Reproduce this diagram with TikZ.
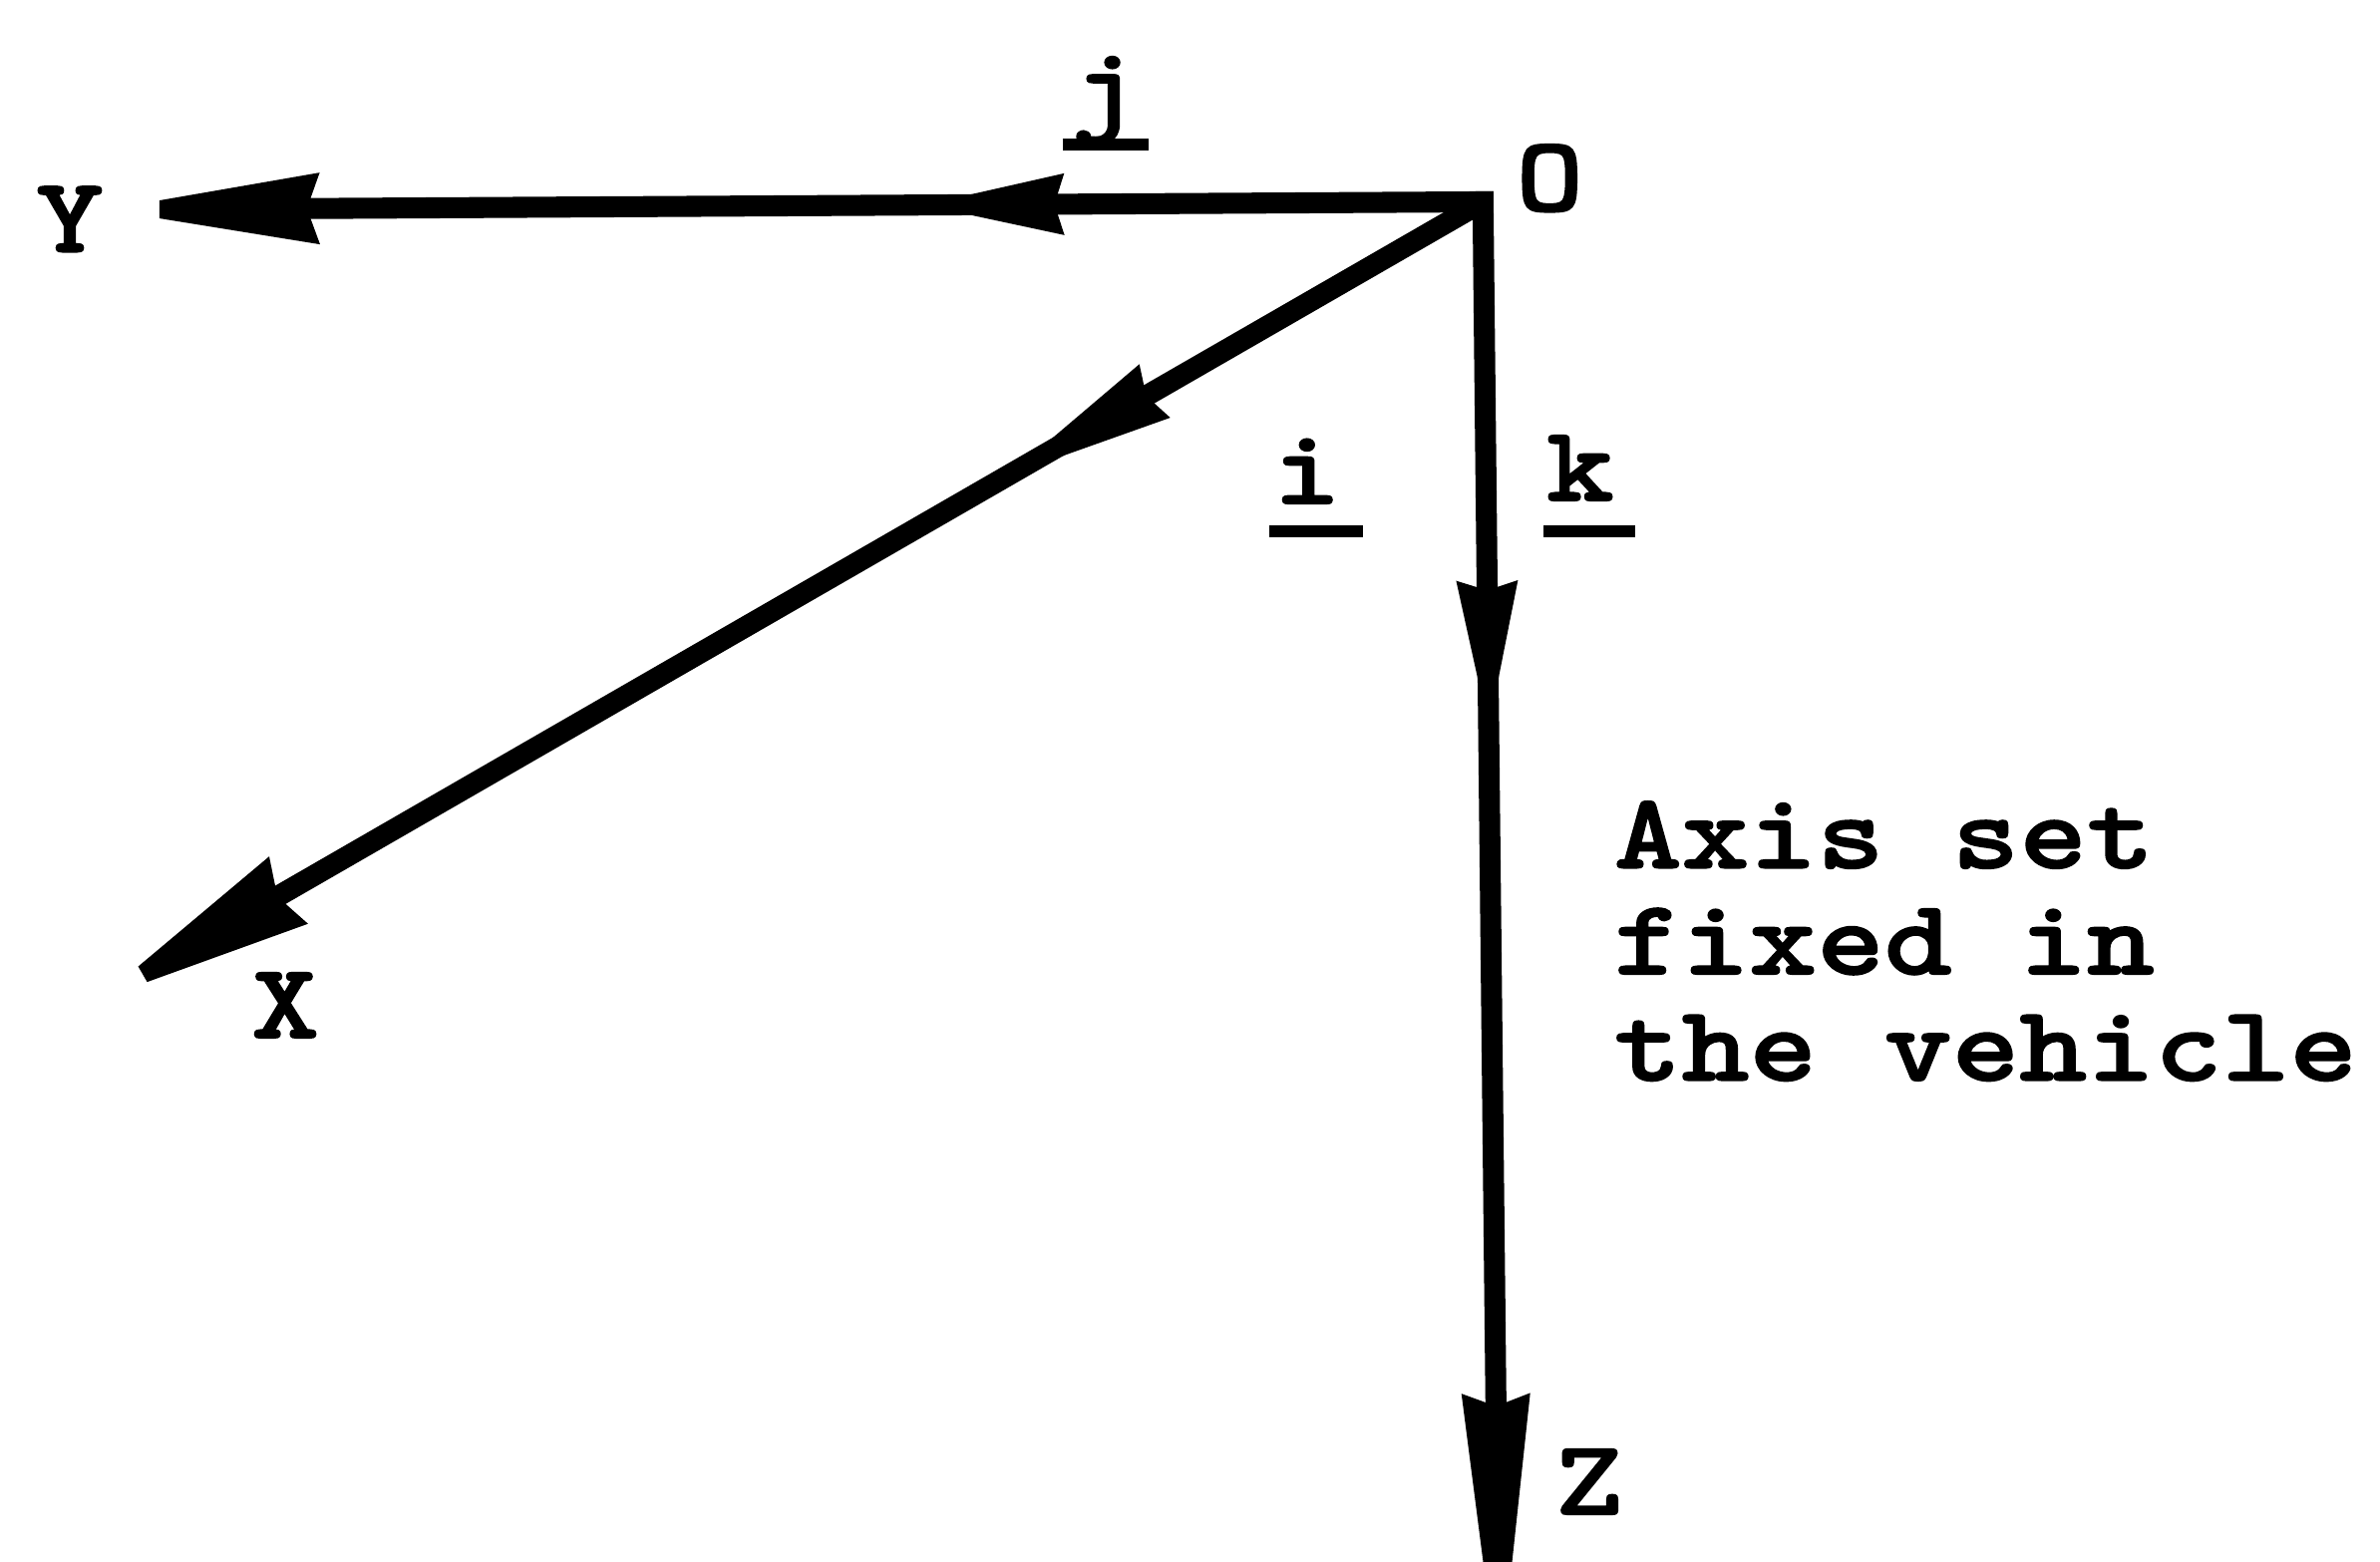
\documentclass[tikz,border=0pt]{standalone}
\usepackage{fontspec}
\newfontfamily\twfont{lmmonolt10-bold.otf}[FakeStretch=1.2,FakeBold=1.5]
\usetikzlibrary{calc}
% arrowhead: #1 tip, #2 point it comes from, #3 length, #4 half width, #5 inset
\newcommand\headat[5]{%
  \coordinate (hb) at ($(#1)!#3!(#2)$);
  \coordinate (hn) at ($(#1)!#3-#5!(#2)$);
  \fill[black] ($(#1)!0.09cm!90:(#2)$) -- ($(hb)!#4!-90:(#1)$) -- (hn)
    -- ($(hb)!#4!90:(#1)$) -- ($(#1)!0.09cm!-90:(#2)$) -- cycle;}
\begin{document}
\begin{tikzpicture}[x=0.015223cm,y=-0.015223cm,
  axis/.style={line width=6pt},
  lbl/.style={font=\twfont\fontsize{30.6}{30}\selectfont, inner sep=0pt, anchor=base},
  txt/.style={lbl, anchor=base west},
  ulw/.style={line width=3.4pt}
]
\useasboundingbox (0,0) rectangle (1568,1029);

\coordinate (O) at (977,133);
\coordinate (Yend) at (105,138);
\coordinate (Xend) at (94,642);
\coordinate (Zend) at (987,1060);

% axes
\draw[axis, line cap=rect, shorten >=0.9cm] (O) -- (Yend);
\draw[axis, line cap=rect, shorten >=0.9cm] (O) -- (Zend);
\draw[axis, shorten >=0.9cm] (O) -- (Xend);

% arrowheads at the middle of each axis
\coordinate (mY) at ($(O)!5.2cm!(Yend)$);
\coordinate (mZ) at ($(O)!4.85cm!(Zend)$);
\coordinate (mX) at ($(O)!5.0cm!(Xend)$);
\headat{mY}{O}{1.0cm}{0.31cm}{0.1cm}
\headat{mZ}{O}{1.05cm}{0.31cm}{0.1cm}
\headat{mX}{O}{1.2cm}{0.31cm}{0.1cm}
% arrowheads at the ends
\headat{Yend}{O}{1.61cm}{0.36cm}{0.13cm}
\headat{Zend}{O}{2.16cm}{0.345cm}{0.13cm}
\headat{Xend}{O}{1.69cm}{0.39cm}{0.13cm}

% labels
\node[lbl] (lY) at (46,166) {Y};
\node[lbl] (lO) at (1021,139) {O};
\node[lbl] (lX) at (188,684) {X};
\node[lbl] (lZ) at (1047,998) {Z};
\node[lbl] (lj) at (728,80) {j};
\node[lbl] (li) at (861,332) {i};
\node[lbl] (lk) at (1041,330) {k};
\draw[ulw] ([shift={(-28,15)}]lj.base) -- ([shift={(29,15)}]lj.base);
\draw[ulw] ([shift={(-25,18)}]li.base) -- ([shift={(37,18)}]li.base);
\draw[ulw] ([shift={(-24,20)}]lk.base) -- ([shift={(36,20)}]lk.base);

% caption
\node[txt] (t1) at (1063,572) {Axis set};
\node[txt] (t2) at (1063,642) {fixed in};
\node[txt] (t3) at (1063,712) {the vehicle};
\end{tikzpicture}
\end{document}
